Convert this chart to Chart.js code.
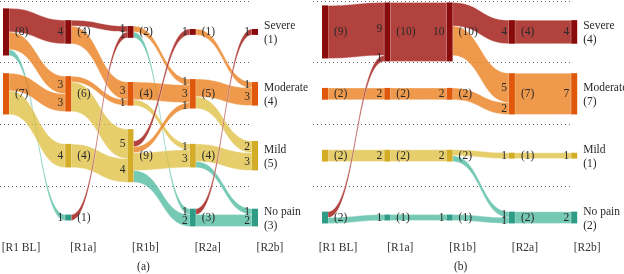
<!DOCTYPE html>
<html>
<head>
<meta charset="utf-8">
<script src="https://cdn.jsdelivr.net/npm/chart.js@4.4.1/dist/chart.umd.min.js"></script>
<style>
body { margin: 0; background: #fff; }
#wrap { position: relative; width: 624px; height: 274px; }
canvas { position: absolute; top: 0; }
#chartA { left: 0; }
#chartB { left: 300px; }
</style>
</head>
<body>
<div id="wrap">
  <canvas id="chartA" width="320" height="274"></canvas>
  <canvas id="chartB" width="324" height="274"></canvas>
</div>
<script>
const stages = ['[R1 BL]', '[R1a]', '[R1b]', '[R2a]', '[R2b]'];
const categories = ['Severe', 'Moderate', 'Mild', 'No pain'];

// patients per stage, in category order (Severe, Moderate, Mild, No pain)
const nodesA = [[8, 7, 0, 0], [4, 6, 4, 1], [2, 4, 9, 0], [1, 5, 4, 3], [1, 4, 5, 3]];
const nodesB = [[9, 2, 2, 2], [10, 2, 2, 1], [10, 2, 2, 1], [4, 7, 1, 2], [4, 7, 1, 2]];

// flows: [from stage, from category, to category, patients]
const flowsA = [
    [0, 0, 0, 4], [0, 0, 1, 3], [0, 0, 3, 1], [0, 1, 1, 3], [0, 1, 2, 4],
    [1, 0, 0, 1], [1, 0, 1, 3], [1, 1, 1, 1], [1, 1, 2, 5], [1, 2, 2, 4], [1, 3, 0, 1],
    [2, 0, 1, 1], [2, 0, 3, 1], [2, 1, 1, 3], [2, 1, 2, 1], [2, 2, 0, 1], [2, 2, 1, 1], [2, 2, 2, 3], [2, 2, 3, 2],
    [3, 0, 1, 1], [3, 1, 1, 3], [3, 1, 2, 2], [3, 2, 2, 3], [3, 2, 3, 1], [3, 3, 0, 1], [3, 3, 3, 2]
];
const flowsB = [
    [0, 0, 0, 9], [0, 1, 1, 2], [0, 2, 2, 2], [0, 3, 0, 1], [0, 3, 3, 1],
    [1, 0, 0, 10], [1, 1, 1, 2], [1, 2, 2, 2], [1, 3, 3, 1],
    [2, 0, 0, 4], [2, 0, 1, 5], [2, 1, 1, 2], [2, 2, 2, 1], [2, 2, 3, 1], [2, 3, 3, 1],
    [3, 0, 0, 4], [3, 1, 1, 7], [3, 2, 2, 1], [3, 3, 3, 2]
];

// y axis in patient units: one band per category
const bandCenters = [5.25, 15.75, 26.25, 36.75];
const bandEdges = [0, 10.5, 21, 31.5];

const nodeColors = ['#8a0b0b', '#e0580c', '#d4ad28', '#2e9c86'];
const flowColors = ['rgba(160,25,20,0.82)', 'rgba(234,128,30,0.8)', 'rgba(222,190,60,0.75)', 'rgba(60,180,150,0.7)'];
const FONT = '11.5px "Liberation Serif"';
const NODE_W = 6;

function alluvial(nodes, flows, dropTop, tag, tagOffset) {
    return {
        id: 'alluvial',
        afterDatasetsDraw(chart) {
            const { ctx, scales: { x, y } } = chart;
            const top = (s, c) => bandCenters[c] - nodes[s][c] / 2;

            // stack the flows inside each node
            const outTot = nodes.map(r => r.map(() => 0));
            flows.forEach(([s, a, b, n]) => { outTot[s][a] += n; });
            const outCur = nodes.map((r, s) => r.map((n, c) => top(s, c) + (dropTop ? n - outTot[s][c] : 0)));
            const inCur = nodes.map((r, s) => r.map((n, c) => top(s, c)));
            const segs = flows.map(f => ({ f }));
            [...segs].sort((p, q) => p.f[0] - q.f[0] || p.f[1] - q.f[1] || p.f[2] - q.f[2]).forEach(g => {
                const [s, a, , n] = g.f;
                g.y0 = outCur[s][a]; outCur[s][a] += n;
            });
            [...segs].sort((p, q) => p.f[0] - q.f[0] || p.f[2] - q.f[2] || p.f[1] - q.f[1]).forEach(g => {
                const [s, , b, n] = g.f;
                g.y1 = inCur[s + 1][b]; inCur[s + 1][b] += n;
            });

            ctx.save();
            // flows
            segs.forEach(g => {
                const [s, , b, n] = g.f;
                const x0 = x.getPixelForValue(s) + NODE_W;
                const x1 = x.getPixelForValue(s + 1);
                const xm = (x0 + x1) / 2;
                const a0 = y.getPixelForValue(g.y0), b0 = y.getPixelForValue(g.y0 + n);
                const a1 = y.getPixelForValue(g.y1), b1 = y.getPixelForValue(g.y1 + n);
                ctx.beginPath();
                ctx.moveTo(x0, a0);
                ctx.bezierCurveTo(xm, a0, xm, a1, x1, a1);
                ctx.lineTo(x1, b1);
                ctx.bezierCurveTo(xm, b1, xm, b0, x0, b0);
                ctx.closePath();
                ctx.fillStyle = flowColors[b];
                ctx.fill();
                ctx.strokeStyle = 'rgba(255,255,255,0.45)';
                ctx.lineWidth = 0.8;
                ctx.stroke();
            });

            // nodes
            nodes.forEach((row, s) => row.forEach((n, c) => {
                if (!n) return;
                const px = x.getPixelForValue(s);
                const t = y.getPixelForValue(top(s, c));
                const bt = y.getPixelForValue(top(s, c) + n);
                ctx.fillStyle = nodeColors[c];
                ctx.fillRect(px, t, NODE_W, bt - t);
            }));

            // labels
            ctx.font = FONT;
            ctx.fillStyle = '#2a2a2a';
            ctx.textBaseline = 'middle';
            ctx.textAlign = 'right';
            segs.forEach(g => {
                const [s, , , n] = g.f;
                ctx.fillText(String(n), x.getPixelForValue(s + 1) - 2, y.getPixelForValue(g.y1 + n / 2));
            });
            ctx.textAlign = 'left';
            const last = nodes.length - 1;
            nodes.forEach((row, s) => row.forEach((n, c) => {
                if (!n) return;
                const px = x.getPixelForValue(s) + NODE_W;
                const py = y.getPixelForValue(bandCenters[c]);
                if (s < last) {
                    ctx.fillText('(' + n + ')', px + 6, py);
                } else {
                    ctx.fillText(categories[c], px + 6, py - 6);
                    ctx.fillText('(' + n + ')', px + 6, py + 8);
                }
            }));
            ctx.textAlign = 'center';
            ctx.fillText(tag, x.getPixelForValue(2) + tagOffset, 267);
            ctx.restore();
        }
    };
}

function makeChart(id, nodes, flows, dropTop, tag, xmin, labelOffset, pad) {
    return new Chart(document.getElementById(id), {
        type: 'scatter',
        data: { datasets: [] },
        options: {
            responsive: false,
            animation: false,
            devicePixelRatio: 1,
            layout: { padding: pad },
            plugins: { legend: { display: false }, tooltip: { enabled: false } },
            scales: {
                x: {
                    type: 'linear',
                    min: xmin,
                    max: 4,
                    grid: { display: false, drawTicks: false, tickLength: 0 },
                    border: { display: false },
                    afterBuildTicks: s => { s.ticks = stages.map((_, i) => ({ value: i })); },
                    afterFit: s => { s.paddingLeft = 0; s.paddingRight = 0; s.height = 22; },
                    ticks: {
                        callback: v => stages[v],
                        labelOffset: labelOffset,
                        padding: 10,
                        autoSkip: false,
                        maxRotation: 0,
                        color: '#333',
                        font: { family: 'Liberation Serif', size: 11.5 }
                    }
                },
                y: {
                    type: 'linear',
                    reverse: true,
                    min: 0,
                    max: 39,
                    afterBuildTicks: s => { s.ticks = bandEdges.map(v => ({ value: v })); },
                    ticks: { display: false },
                    grid: { color: '#666', lineWidth: 1, drawTicks: false, tickLength: 0 },
                    border: { display: false, dash: [1, 3] }
                }
            }
        },
        plugins: [alluvial(nodes, flows, dropTop, tag, labelOffset - 2)]
    });
}

makeChart('chartA', nodesA, flowsA, true, '(a)', -0.048, 18, { left: 0, right: 68, top: 1, bottom: 21.2 });
makeChart('chartB', nodesB, flowsB, false, '(b)', -0.1446, 16, { left: 13, right: 52.8, top: 1, bottom: 21.2 });
</script>
</body>
</html>
